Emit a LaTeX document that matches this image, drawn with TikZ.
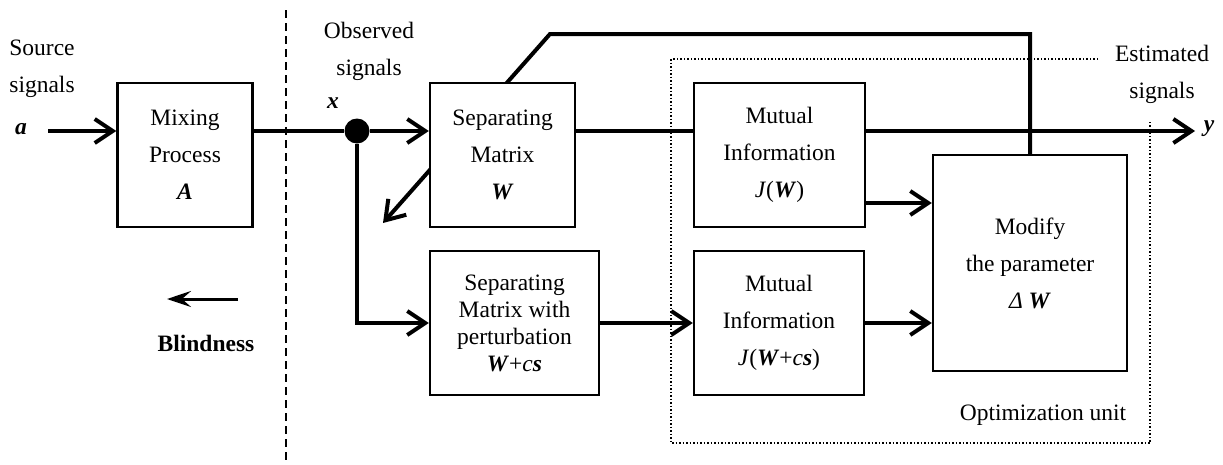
\documentclass[tikz,border=0pt]{standalone}
\usepackage{fontspec}
\setmainfont{Liberation Serif}
\usetikzlibrary{arrows.meta,positioning}
\pgfdeclarelayer{bg}
\pgfsetlayers{bg,main}
\newcommand{\bi}[1]{\textbf{\textit{#1}}}
\tikzset{
  block/.style={draw,line width=2.3pt,fill=white,align=center,minimum height=144pt,inner sep=0pt},
  sig/.style={line width=4pt},
  arr/.style={sig,-{Straight Barb[length=18pt,width=24pt]}}
}

\begin{document}
\begin{tikzpicture}[x=1pt,y=-1pt,font=\fontsize{23.5}{37}\selectfont]
\useasboundingbox (0,0) rectangle (1223,464);

\node[block,minimum width=135pt] (mix) at (185,155) {Mixing\\Process\\\bi{A}};
\node[block,minimum width=145pt] (sepW) at (502.5,155) {Separating\\Matrix\\\bi{W}};
\node[block,minimum width=171pt] (mi1) at (779.5,155) {Mutual\\Information\\\textit{J}(\bi{W})};

\begin{scope}[yshift=-168pt]
\node[block,minimum width=169pt,font=\fontsize{23.5}{27}\selectfont] (sepP) at (514.5,155)
  {Separating\\Matrix with\\perturbation\\\bi{W}+\textit{c}\bi{s}};
\node[block,minimum width=170pt] (mi2) at (779,155) {Mutual\\Information\\\textit{J}(\bi{W}+\textit{c}\bi{s})};
\end{scope}

\node[block,minimum width=194pt,minimum height=216pt] (mod) at (1030,263)
  {Modify\\the parameter\\\textit{Δ} \bi{W}};

\node[align=center] (src) at (42,69) {Source\\signals};
\node (a) at (21,129) {\bi{a}};
\node[align=center] (obs) at (369,51) {Observed\\signals};
\node (x) at (333,103) {\bi{x}};
\node[align=center] (est) at (1162,74) {Estimated\\signals};
\node (y) at (1209,129) {\bi{y}};
\node (opt) at (1043,415) {Optimization unit};
\node (blind) at (206,343) {\textbf{Blindness}};

\node[circle,fill,inner sep=0pt,minimum size=25pt] (dot) at (357,131) {};
\coordinate (ain) at (48,131);
\coordinate (yout) at (1195,131);
\coordinate (fb) at (550,34);
\coordinate (tip) at (383,223);
\coordinate (bs) at (238,299);
\coordinate (be) at (167,299);

\draw[line width=2pt,dash pattern=on 8pt off 5pt] (286,10) -- (286,464);
\draw[line width=1.5pt,dotted] (1098,59) -| (671,443) -| (1150,122);

\draw[arr] (ain) -- (mix.west |- ain);
\draw[sig] (mix.east |- dot) -- (dot);
\draw[arr] (dot) -- (sepW.west |- dot);
\draw[sig] (sepW.east |- dot) -- (mi1.west |- dot);
\draw[arr] (mi1.east |- dot) -- (yout);
\draw[arr] (dot) |- (sepP.west);
\draw[arr] (sepP.east) -- (mi2.west);
\draw[arr] ([yshift=-48pt]mi1.east) -- ([yshift=-48pt]mi1.east -| mod.west);
\draw[arr] (mi2.east) -- (mi2.east -| mod.west);
\draw[line width=3pt,-{Stealth[length=24pt,width=16pt,inset=9pt]}] (bs) -- (be);

\begin{pgfonlayer}{bg}
\draw[arr] (mod.north) |- (fb) -- (tip);
\end{pgfonlayer}

\end{tikzpicture}
\end{document}
